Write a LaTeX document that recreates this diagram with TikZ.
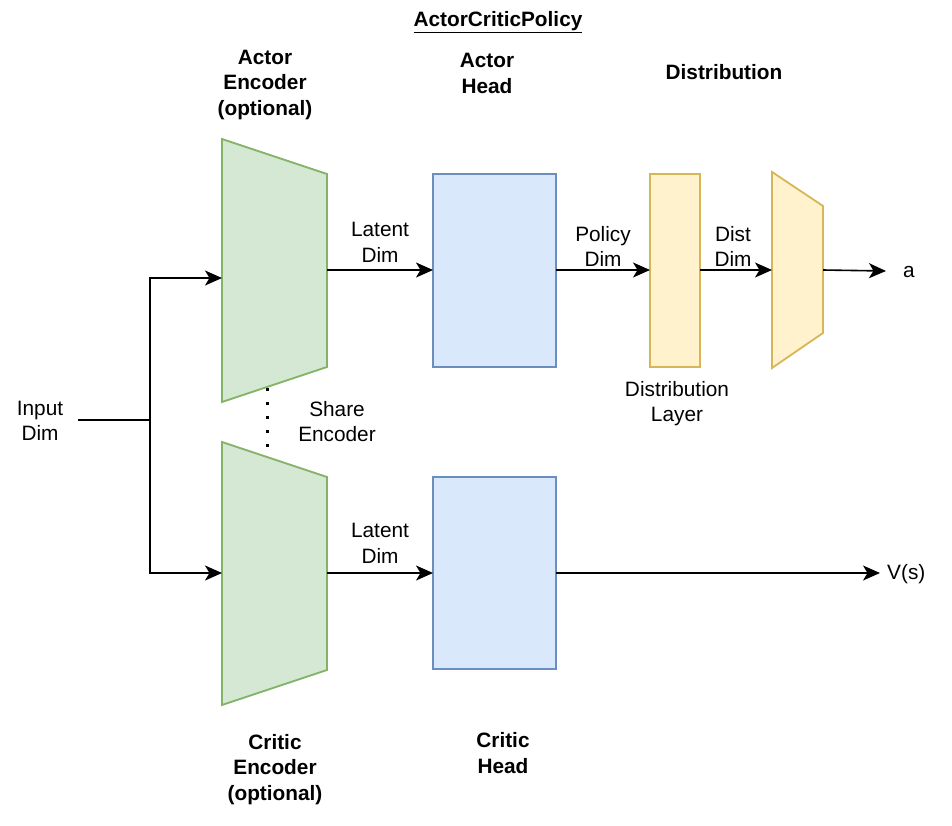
\documentclass[tikz,border=0pt]{standalone}
\usepackage{fontspec}
\setmainfont{Liberation Sans}
\usetikzlibrary{arrows.meta,calc}
\definecolor{gfill}{HTML}{D5E8D4}
\definecolor{gline}{HTML}{82B366}
\definecolor{bfill}{HTML}{DAE8FC}
\definecolor{bline}{HTML}{6C8EBF}
\definecolor{yfill}{HTML}{FFF2CC}
\definecolor{yline}{HTML}{D6B656}
\tikzset{
  frame/.style={draw=none, inner sep=0pt, outer sep=0pt},
  lbl/.style={align=center, inner sep=0pt, font=\fontsize{20.8}{25.5}\selectfont},
  blbl/.style={lbl, font=\fontsize{20.8}{25.5}\selectfont\bfseries},
  conn/.style={line width=1.6pt, -{Stealth[length=17pt,width=15pt,inset=4.5pt]}},
  plain/.style={line width=1.6pt},
}
\begin{document}
\begin{tikzpicture}[x=1pt,y=-1pt]
\useasboundingbox (0,0) rectangle (952,825);

% frames for trapezoids
\node[frame, minimum width=105, minimum height=263] (ae) at (274.5,270.5) {};
\node[frame, minimum width=105, minimum height=263] (ce) at (274.5,573.5) {};
\node[frame, minimum width=51, minimum height=196] (dt) at (797.5,270) {};

\filldraw[fill=gfill, draw=gline, line width=1.8pt, line join=miter]
  (ae.north west) -- ($(ae.north east)+(0,35)$) -- ($(ae.south east)+(0,-35)$) -- (ae.south west) -- cycle;
\filldraw[fill=gfill, draw=gline, line width=1.8pt, line join=miter]
  (ce.north west) -- ($(ce.north east)+(0,35)$) -- ($(ce.south east)+(0,-35)$) -- (ce.south west) -- cycle;
\filldraw[fill=yfill, draw=yline, line width=1.8pt, line join=miter]
  (dt.north west) -- ($(dt.north east)+(0,34)$) -- ($(dt.south east)+(0,-35)$) -- (dt.south west) -- cycle;

% rectangles
\node[draw=bline, fill=bfill, line width=1.8pt, inner sep=0pt, outer sep=0pt, minimum width=123, minimum height=193] (ah) at (494.5,270.5) {};
\node[draw=bline, fill=bfill, line width=1.8pt, inner sep=0pt, outer sep=0pt, minimum width=123, minimum height=192] (ch) at (494.5,573) {};
\node[draw=yline, fill=yfill, line width=1.8pt, inner sep=0pt, outer sep=0pt, minimum width=50, minimum height=193] (dl) at (675,270.5) {};

% texts
\node[blbl] (title) at (498,22) {\underline{ActorCriticPolicy}};
\node[blbl] (taenc) at (265,84.5) {Actor\\Encoder\\(optional)};
\node[blbl] (tahead) at (487,73.5) {Actor\\Head};
\node[blbl] (tdist) at (724,72.5) {Distribution};
\node[blbl] (tcenc) at (275,769.5) {Critic\\Encoder\\(optional)};
\node[blbl] (tchead) at (503,753) {Critic\\Head};

\node[lbl] (input) at (40,421) {Input\\Dim};
\node[lbl] (share) at (337,421.5) {Share\\Encoder};
\node[lbl] (lat1) at (380,242.5) {Latent\\Dim};
\node[lbl] (lat2) at (380,543.5) {Latent\\Dim};
\node[lbl] (pol) at (603,246.5) {Policy\\Dim};
\node[lbl] (ddim) at (733,246.5) {Dist\\Dim};
\node[lbl] (dlay) at (677,403.5) {Distribution\\Layer};
\node[lbl, anchor=west] (outa) at (903,272) {a};
\node[lbl, anchor=west] (outv) at (887,574) {V(s)};

% connectors
\coordinate (inend) at (78,420);
\coordinate (split) at (150,420);
\draw[plain] (inend) -- (split);
\draw[conn] (split) |- (ae.west |- 0,278);
\draw[conn] (split) |- (ce.west |- 0,573);
\draw[conn] (ae.east |- 0,270) -- (ah.west |- 0,270);
\draw[conn] (ce.east |- 0,573) -- (ch.west |- 0,573);
\draw[conn] (ah.east |- 0,270) -- (dl.west |- 0,270);
\draw[conn] (dl.east |- 0,270) -- (dt.west |- 0,270);
\coordinate (aend) at (886,271);
\draw[conn] (dt.east |- 0,270) -- (aend);
\coordinate (vend) at (880,573);
\draw[conn] (ch.east) -- (vend);

% share encoder dotted link
\coordinate (sh1) at (267,387);
\coordinate (sh2) at (267,458);
\draw[line width=3pt, dash pattern=on 3pt off 11pt, dash phase=-1pt] (sh1) -- (sh2);
\end{tikzpicture}
\end{document}
